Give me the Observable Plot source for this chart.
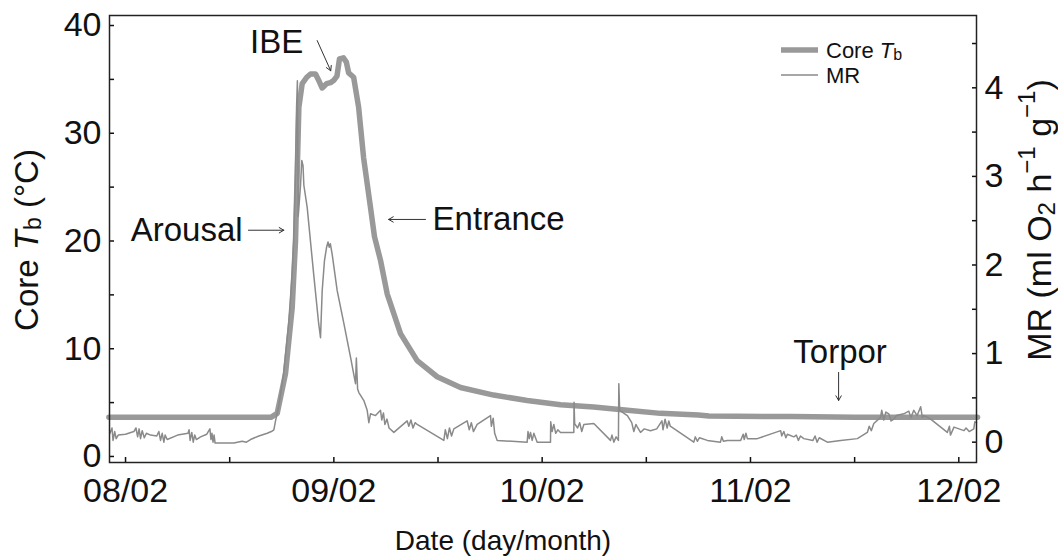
<!DOCTYPE html>
<html><head><meta charset="utf-8">
<script src="https://cdn.jsdelivr.net/npm/d3@7"></script>
<script src="https://cdn.jsdelivr.net/npm/@observablehq/plot@0.6"></script>
<style>
html,body{margin:0;padding:0;background:#fff;}
#chart{width:1058px;height:559px;overflow:hidden;}
</style></head><body><div id="chart"></div>
<script>
// Core body temperature (°C) by date (day of February)
const coreDays = [7.92, 8.70, 8.728, 8.768, 8.800, 8.816, 8.824, 8.832, 8.848, 8.870, 8.888, 8.912, 8.930, 8.944, 8.965, 8.984, 8.999, 9.015, 9.027, 9.046, 9.060, 9.071, 9.095, 9.119, 9.143, 9.176, 9.195, 9.224, 9.256, 9.320, 9.400, 9.496, 9.608, 9.767, 9.928, 10.088, 10.247, 10.409, 10.568, 10.75, 10.80, 11.2, 11.5, 12.09];
const coreTb = [3.65, 3.65, 4.0, 7.7, 13.8, 20.0, 26.3, 32.4, 34.6, 35.2, 35.5, 35.5, 34.8, 34.2, 34.6, 34.7, 34.9, 35.3, 36.9, 37.0, 36.6, 35.6, 35.2, 32.4, 27.7, 23.1, 20.4, 18.2, 15.1, 11.4, 8.9, 7.4, 6.4, 5.7, 5.2, 4.8, 4.6, 4.3, 4.0, 3.85, 3.75, 3.7, 3.65, 3.65];

// Metabolic rate (ml O2 h-1 g-1) by date
const mrDays = [7.925, 7.935, 7.94, 7.948, 7.955, 7.965, 8.00, 8.04, 8.05, 8.058, 8.065, 8.072, 8.08, 8.09, 8.10, 8.12, 8.15, 8.16, 8.168, 8.176, 8.184, 8.19, 8.20, 8.25, 8.30, 8.305, 8.31, 8.318, 8.325, 8.332, 8.34, 8.36, 8.39, 8.405, 8.41, 8.415, 8.42, 8.425, 8.43, 8.52, 8.56, 8.58, 8.60, 8.64, 8.68, 8.70, 8.712, 8.72, 8.735, 8.759, 8.783, 8.800, 8.807, 8.816, 8.821, 8.825, 8.829, 8.840, 8.846, 8.852, 8.856, 8.872, 8.903, 8.927, 8.936, 8.944, 8.955, 8.965, 8.972, 8.978, 8.983, 8.992, 9.016, 9.048, 9.080, 9.104, 9.108, 9.114, 9.120, 9.144, 9.160, 9.168, 9.176, 9.20, 9.224, 9.23, 9.238, 9.245, 9.255, 9.265, 9.288, 9.352, 9.36, 9.37, 9.38, 9.39, 9.40, 9.528, 9.535, 9.545, 9.555, 9.565, 9.576, 9.64, 9.65, 9.66, 9.67, 9.688, 9.752, 9.756, 9.765, 9.772, 9.784, 9.928, 9.932, 9.938, 9.944, 9.952, 9.96, 9.976, 10.040, 10.041, 10.048, 10.056, 10.065, 10.075, 10.088, 10.152, 10.153, 10.156, 10.17, 10.18, 10.19, 10.20, 10.248, 10.328, 10.335, 10.344, 10.355, 10.366, 10.368, 10.372, 10.409, 10.43, 10.44, 10.45, 10.457, 10.472, 10.49, 10.52, 10.55, 10.575, 10.58, 10.59, 10.60, 10.608, 10.615, 10.728, 10.735, 10.745, 10.755, 10.793, 10.856, 10.862, 10.87, 10.889, 10.953, 10.965, 10.97, 10.978, 10.985, 11.033, 11.145, 11.15, 11.16, 11.17, 11.177, 11.208, 11.22, 11.23, 11.24, 11.256, 11.30, 11.31, 11.32, 11.33, 11.369, 11.433, 11.513, 11.561, 11.57, 11.58, 11.592, 11.624, 11.63, 11.64, 11.65, 11.664, 11.675, 11.688, 11.70, 11.736, 11.76, 11.77, 11.784, 11.80, 11.817, 11.825, 11.833, 11.865, 11.945, 11.955, 11.96, 11.977, 12.025, 12.035, 12.05, 12.072, 12.077, 12.085];
const mrValues = [0.10, 0.16, 0.02, 0.12, 0.04, 0.08, 0.09, 0.12, 0.16, 0.06, 0.15, 0.04, 0.13, 0.05, 0.10, 0.08, 0.07, 0.12, 0.02, 0.10, 0.00, 0.08, 0.03, 0.08, 0.10, 0.14, 0.02, 0.11, 0.00, 0.08, 0.03, 0.06, 0.09, 0.15, 0.03, 0.10, 0.00, 0.08, -0.01, -0.01, 0.01, 0.00, 0.03, 0.07, 0.10, 0.12, 0.14, 0.24, 0.40, 0.78, 1.34, 1.90, 2.27, 3.03, 3.78, 4.08, 2.55, 2.90, 3.18, 3.12, 2.90, 2.65, 1.90, 1.34, 1.18, 1.71, 2.05, 2.20, 2.26, 2.20, 2.24, 2.12, 1.71, 1.34, 0.96, 0.66, 0.95, 0.60, 0.56, 0.47, 0.36, 0.22, 0.32, 0.30, 0.36, 0.25, 0.33, 0.20, 0.26, 0.16, 0.11, 0.24, 0.18, 0.25, 0.16, 0.22, 0.20, 0.02, 0.14, 0.04, 0.16, 0.07, 0.15, 0.24, 0.14, 0.22, 0.12, 0.20, 0.30, 0.18, 0.27, 0.10, 0.02, 0.00, 0.12, 0.04, 0.11, 0.02, 0.10, 0.00, 0.00, 0.23, 0.12, 0.20, 0.10, 0.14, 0.11, 0.11, 0.45, 0.21, 0.16, 0.22, 0.12, 0.20, 0.21, 0.02, 0.08, 0.00, 0.06, 0.02, 0.66, 0.36, 0.30, 0.22, 0.12, 0.20, 0.17, 0.11, 0.15, 0.13, 0.15, 0.24, 0.14, 0.26, 0.16, 0.24, 0.18, 0.00, 0.06, 0.01, 0.05, 0.02, 0.00, 0.06, 0.01, 0.02, 0.02, 0.09, 0.03, 0.10, 0.04, 0.04, 0.13, 0.07, 0.12, 0.05, 0.09, 0.06, 0.08, 0.02, 0.07, 0.04, 0.02, 0.07, 0.00, 0.05, 0.00, 0.02, 0.04, 0.11, 0.18, 0.13, 0.21, 0.28, 0.36, 0.25, 0.34, 0.32, 0.24, 0.26, 0.30, 0.32, 0.35, 0.28, 0.36, 0.30, 0.40, 0.28, 0.30, 0.26, 0.11, 0.18, 0.08, 0.17, 0.13, 0.16, 0.12, 0.15, 0.23, 0.22];

// Axis ticks
const dayTicks = [8, 8.5, 9, 9.5, 10, 10.5, 11, 11.5, 12];
const dayTickLabels = {8: "08/02", 9: "09/02", 10: "10/02", 11: "11/02", 12: "12/02"};
const tbTicks = [0, 5, 10, 15, 20, 25, 30, 35, 40];
const mrTicks = [0, 0.5, 1, 1.5, 2, 2.5, 3, 3.5, 4, 4.5];

// Annotations
const labelsMiddle = [
  {label: "IBE", day: 8.725, tb: 38.4},
  {label: "Torpor", day: 11.43, tb: 9.7}
];
const labelsEnd = [{label: "Arousal", day: 8.562, tb: 21.0}];
const labelsStart = [{label: "Entrance", day: 9.474, tb: 22.0}];
const arrows = [
  {x1: 8.59, y1: 21.0, x2: 8.76, y2: 21.0},
  {x1: 9.44, y1: 22.0, x2: 9.263, y2: 22.0},
  {x1: 8.92, y1: 38.6, x2: 8.985, y2: 35.8},
  {x1: 11.423, y1: 7.8, x2: 11.423, y2: 5.2}
];

// MR is plotted on the Tb scale through a linear mapping (right axis)
const mrToTb = m => 1.327 + 8.2227 * m;
const tbToMr = t => (t - 1.327) / 8.2227;

const coreData = coreDays.map((d, i) => ({day: d, v: coreTb[i]}));
const mrData = mrDays.map((d, i) => ({day: d, v: mrToTb(mrValues[i])}));

const FONT = "'Liberation Sans', Arial, Helvetica, sans-serif";
const GRAY_THICK = "#999999";
const GRAY_THIN = "#8a8a8a";
const TICK_FS = 34;
const ANN_FS = 33;

const textOpts = {x: "day", y: "tb", text: "label", fontSize: ANN_FS, fill: "#111"};

const plot = Plot.plot({
  width: 1058,
  height: 559,
  marginLeft: 109,
  marginRight: 82,
  marginTop: 15,
  marginBottom: 97,
  style: {fontFamily: FONT, fontSize: TICK_FS + "px", color: "#111", background: "#fff"},
  x: {domain: [7.923, 12.085]},
  y: {domain: [-0.56, 40.93]},
  marks: [
    Plot.line(coreData, {x: "day", y: "v", stroke: GRAY_THICK, strokeWidth: 5.5, strokeLinejoin: "round"}),
    Plot.line(mrData, {x: "day", y: "v", stroke: GRAY_THIN, strokeWidth: 1.5}),
    Plot.axisX(dayTicks, {anchor: "bottom", tickSize: -5, tickPadding: 20, stroke: "#111", strokeWidth: 1.5,
      tickFormat: d => dayTickLabels[d] ?? "", label: null, fontSize: TICK_FS}),
    Plot.axisY(tbTicks, {anchor: "left", tickSize: -5, tickPadding: 13, stroke: "#111", strokeWidth: 1.5,
      tickFormat: d => d % 10 === 0 ? String(d) : "", label: null, fontSize: TICK_FS}),
    Plot.axisY(mrTicks.map(mrToTb), {anchor: "right", tickSize: -5, tickPadding: 13, stroke: "#111", strokeWidth: 1.5,
      tickFormat: d => { const m = Math.round(tbToMr(d) * 2) / 2; return Number.isInteger(m) ? String(m) : ""; },
      label: null, fontSize: TICK_FS}),
    Plot.frame({stroke: "#222", strokeWidth: 1.5}),
    Plot.arrow(arrows, {x1: "x1", y1: "y1", x2: "x2", y2: "y2", stroke: "#333", strokeWidth: 1, headLength: 8, bend: 0}),
    Plot.text(labelsMiddle, {...textOpts, textAnchor: "middle"}),
    Plot.text(labelsEnd, {...textOpts, textAnchor: "end"}),
    Plot.text(labelsStart, {...textOpts, textAnchor: "start"})
  ]
});
document.getElementById("chart").appendChild(plot);

const svg = d3.select(plot);
// Left axis label
const lt = svg.append("text")
  .attr("transform", "translate(26,240) rotate(-90)")
  .attr("text-anchor", "middle").attr("dominant-baseline", "central")
  .attr("font-family", FONT).attr("font-size", 33).attr("fill", "#111");
lt.append("tspan").text("Core ");
lt.append("tspan").attr("font-style", "italic").text("T");
lt.append("tspan").attr("font-size", 23).attr("dy", 7).text("b");
lt.append("tspan").attr("dy", -7).text(" (°C)");

// Right axis label
const rt = svg.append("text")
  .attr("transform", "translate(1039,220) rotate(-90)")
  .attr("text-anchor", "middle").attr("dominant-baseline", "central")
  .attr("font-family", FONT).attr("font-size", 34).attr("fill", "#111");
rt.append("tspan").text("MR (ml O");
rt.append("tspan").attr("font-size", 24).attr("dy", 7).text("2");
rt.append("tspan").attr("dy", -7).text(" h");
rt.append("tspan").attr("font-size", 24).attr("dy", -13).text("−1");
rt.append("tspan").attr("dy", 13).text(" g");
rt.append("tspan").attr("font-size", 24).attr("dy", -13).text("−1");
rt.append("tspan").attr("dy", 13).text(")");

// X axis label
svg.append("text")
  .attr("x", 503).attr("y", 540)
  .attr("text-anchor", "middle").attr("dominant-baseline", "central")
  .attr("font-family", FONT).attr("font-size", 28).attr("fill", "#111")
  .text("Date (day/month)");

// Legend
const lg = svg.append("g").attr("font-family", FONT).attr("font-size", 22).attr("fill", "#111").attr("text-anchor", "start");
lg.append("line").attr("x1", 781).attr("x2", 818).attr("y1", 50).attr("y2", 50).attr("stroke", GRAY_THICK).attr("stroke-width", 5.5);
const l1 = lg.append("text").attr("x", 826).attr("y", 50).attr("dominant-baseline", "central");
l1.append("tspan").text("Core ");
l1.append("tspan").attr("font-style", "italic").text("T");
l1.append("tspan").attr("font-size", 16).attr("dy", 4).text("b");
lg.append("line").attr("x1", 781).attr("x2", 818).attr("y1", 75).attr("y2", 75).attr("stroke", GRAY_THIN).attr("stroke-width", 1.5);
lg.append("text").attr("x", 826).attr("y", 75).attr("dominant-baseline", "central").text("MR");
</script>
</body></html>
